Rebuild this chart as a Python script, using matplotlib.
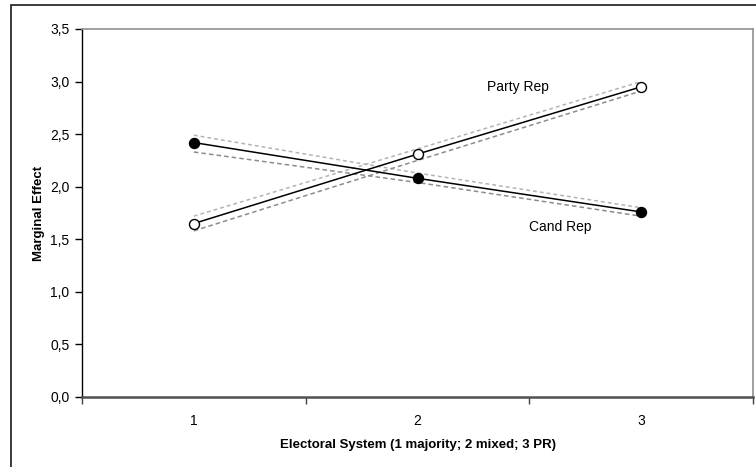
import matplotlib.pyplot as plt
import matplotlib.patches as patches
from matplotlib.ticker import FixedLocator, FuncFormatter

plt.rcParams['font.family'] = ['Liberation Sans', 'DejaVu Sans']

systems = [1, 2, 3]

# Marginal effects with upper / lower bounds
cand_rep = [2.42, 2.08, 1.76]
cand_hi = [2.49, 2.13, 1.80]
cand_lo = [2.33, 2.04, 1.72]

party_rep = [1.65, 2.31, 2.95]
party_hi = [1.72, 2.36, 3.00]
party_lo = [1.58, 2.25, 2.91]

fig = plt.figure(figsize=(7.56, 4.67), dpi=100)
ax = fig.add_axes([82 / 756, 1 - 397 / 467, (753 - 82) / 756, (397 - 29) / 467])

# chart frame
frame = patches.Rectangle((11 / 756, -0.05), 1.0, 1 - 5 / 467 + 0.05,
                          transform=fig.transFigure, fill=False,
                          edgecolor='#1a1a1a', linewidth=1.2, clip_on=False)
fig.patches.append(frame)

# bounds
for hi, lo in [(cand_hi, cand_lo), (party_hi, party_lo)]:
    ax.plot(systems, hi, color='#b4b4b4', lw=1.1, dashes=(2.5, 2))
    ax.plot(systems, lo, color='#8c8c8c', lw=1.1, dashes=(3, 2))

ax.plot(systems, cand_rep, color='black', lw=1.1, marker='o', ms=7.2,
        mfc='black', mec='black', zorder=3)
ax.plot(systems, party_rep, color='black', lw=1.1, marker='o', ms=7.2,
        mfc='white', mec='black', mew=1.0, zorder=3)

ax.text(2.45, 2.95, 'Party Rep', fontsize=10, ha='center', va='center')
ax.text(2.64, 1.62, 'Cand Rep', fontsize=10, ha='center', va='center')

ax.set_xlim(0.5, 3.5)
ax.set_ylim(0, 3.5)

ax.set_yticks([0, 0.5, 1.0, 1.5, 2.0, 2.5, 3.0, 3.5])
ax.yaxis.set_major_formatter(FuncFormatter(lambda v, p: f'{v:.1f}'.replace('.', ',')))
ax.set_xticks(systems)
ax.xaxis.set_minor_locator(FixedLocator([0.5, 1.5, 2.5, 3.5]))
ax.tick_params(axis='x', which='major', length=0, pad=12, labelsize=10)
ax.tick_params(axis='x', which='minor', length=5, width=1, color='#404040')
ax.tick_params(axis='y', length=5, width=1, pad=4, labelsize=10)

ax.set_xlabel('Electoral System (1 majority; 2 mixed; 3 PR)', fontsize=9.5,
              fontweight='bold', labelpad=8)
ax.set_ylabel('Marginal Effect', fontsize=9.5, fontweight='bold', labelpad=4)

ax.spines['left'].set_color('black')
ax.spines['left'].set_linewidth(1.0)
ax.spines['bottom'].set_color('#505050')
ax.spines['bottom'].set_linewidth(1.8)
ax.spines['top'].set_color('#909090')
ax.spines['top'].set_linewidth(1.2)
ax.spines['right'].set_color('#909090')
ax.spines['right'].set_linewidth(1.2)

fig.savefig('out.png', dpi=100)
